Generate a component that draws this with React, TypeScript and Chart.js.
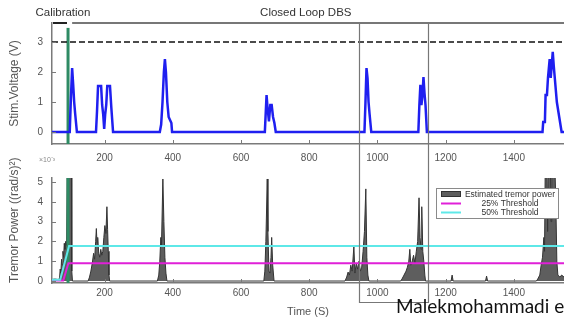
import { useEffect, useRef } from 'react';
import { Chart, registerables } from 'chart.js';

Chart.register(...registerables);

// ---- data -------------------------------------------------------------
const X_MIN = 46;
const X_MAX = 1547;
const xTicks = [200, 400, 600, 800, 1000, 1200, 1400];
const voltageTicks = [0, 1, 2, 3];
const powerTicks = [0, 1, 2, 3, 4, 5];

// stimulation voltage (V) over time (s)
const voltageTime = [
  46, 98, 101, 105, 108, 111, 114, 119,
  175, 178, 181, 190, 193, 196, 199, 202, 205, 208, 216, 220, 225,
  362, 366, 370, 374, 377, 380, 384, 388, 392, 396, 398,
  670, 675, 678, 682, 686, 690, 694, 698, 702,
  962, 965, 968, 971, 974, 977, 982,
  1120, 1123, 1126, 1129, 1132, 1135, 1138, 1141, 1145,
  1484, 1486, 1491, 1493, 1497, 1500, 1505, 1508, 1511, 1514, 1517, 1520, 1526, 1533, 1540, 1547,
];
const voltageValue = [
  0, 0, 1.0, 2.13, 1.6, 1.0, 0.6, 0,
  0, 0.7, 1.53, 1.53, 0.9, 0.6, 0.1, 0.6, 0.9, 1.53, 1.53, 0.8, 0,
  0, 0.25, 1.0, 2.0, 2.43, 2.0, 1.0, 0.5, 0.4, 0.3, 0,
  0, 1.23, 0.8, 0.35, 0.9, 0.9, 0.5, 0.3, 0,
  0, 1.0, 2.13, 1.8, 1.0, 0.6, 0,
  0, 0.9, 1.57, 0.9, 1.2, 1.83, 1.3, 0.9, 0,
  0, 0.33, 0.33, 1.23, 1.23, 1.8, 2.43, 1.8, 2.2, 2.67, 2.2, 1.8, 1.0, 0.5, 0, 0,
];
const maxVoltage = 3;
const calibrationEnd = 93;

// estimated tremor power (x10^-3 (rad/s)^2)
const tremorTime = [
  46, 55, 62, 68, 70, 72, 74, 76, 78, 80, 82, 84, 86, 89, 91, 103, 104, 106,
  152, 156, 160, 164, 168, 171, 174, 176, 178, 180, 183, 186, 189, 192, 195, 198, 201, 204, 207, 209, 211, 213, 215,
  355, 359, 362, 365, 367, 371, 374, 377, 380, 383,
  667, 670, 673, 677, 679, 682, 685, 688, 690, 693, 697,
  905, 910, 914, 918, 922, 926, 931, 934, 938, 942, 946, 950, 954, 958, 962, 966, 969, 972, 975,
  1068, 1072, 1078, 1084, 1088, 1092, 1095, 1098, 1102, 1106, 1110, 1114, 1118, 1122, 1125, 1128, 1130, 1133, 1136, 1139, 1141,
  1216, 1219, 1222, 1317, 1320, 1323,
  1466, 1470, 1476, 1480, 1484, 1488, 1490, 1492, 1497, 1499, 1501, 1507, 1509, 1511, 1520, 1523, 1526, 1529, 1535, 1540, 1547,
];
const tremorPower = [
  0.08, 0.1, 0.08, 0.1, 0.6, 0.4, 1.1, 0.8, 1.5, 1.2, 1.9, 1.6, 2.0, 1.8, 7, 7, 0.5, 0,
  0, 0.2, 0.5, 0.9, 1.4, 1.1, 2.0, 2.65, 1.9, 2.2, 1.4, 1.2, 1.6, 1.3, 1.5, 2.2, 2.8, 2.4, 3.75, 2.6, 1.5, 0.3, 0,
  0, 0.3, 1.0, 2.2, 1.8, 5.15, 3.0, 1.2, 0.4, 0,
  0, 0.5, 2.0, 5.15, 2.5, 0.5, 0.4, 1.2, 2.2, 0.8, 0,
  0, 0.2, 0.45, 0.3, 0.8, 0.5, 1.75, 0.4, 0.9, 0.6, 1.0, 0.5, 0.7, 1.5, 2.5, 4.65, 1.2, 0.3, 0,
  0, 0.1, 0.3, 0.5, 0.7, 1.0, 1.6, 0.8, 1.0, 1.3, 0.9, 1.5, 2.0, 4.2, 2.2, 1.6, 3.75, 1.5, 1.0, 0.3, 0,
  0, 0.3, 0, 0, 0.25, 0,
  0, 0.1, 0.3, 0.8, 1.2, 2.2, 1.5, 6, 6, 2.5, 6, 6, 3, 6, 6, 4, 1.0, 0.3, 0.2, 0.3, 0.2,
];

const threshold25Time = [46, 79, 94, 1547];
const threshold25Value = [0.03, 0.03, 0.9, 0.9];
const threshold50Time = [46, 70, 96, 1547];
const threshold50Value = [0.06, 0.06, 1.77, 1.77];

const reviewWindow = [946, 1148];
const phaseNames = ['Calibration', 'Closed Loop DBS'];
const phaseStart = [49, 105];
const phaseEnd = [90, 1547];
const phaseLabelX = [78, 790];
const phaseColors = ['#222222', '#777777'];

// ---- styling ------------------------------------------------------------
const W = 564;
const H = 320;
const TOP_PANEL = { top: 23, bottom: 144 };
const BOTTOM_PANEL = { top: 178, bottom: 283 };
const AXIS_W = 52;
const FONT = "'Liberation Sans', Arial, sans-serif";
const AXIS_COLOR = '#7a7a7a';
const TEXT_COLOR = '#555555';
const BLUE = '#1f1ff0';
const TEAL = '#2e8b64';
const MAGENTA = '#e020d8';
const CYAN = '#5ee8e8';
const TREMOR_FILL = 'rgba(72,72,72,0.88)';
const TREMOR_EDGE = '#333333';

const pts = (xs: number[], ys: number[]) => xs.map((x, i) => ({ x, y: ys[i] }));
const plainNumber = (v: any) => String(v);

const xScale = (labelPad: number, height: number, title?: any) => ({
  type: 'linear' as const,
  min: X_MIN,
  max: X_MAX,
  afterBuildTicks: (s: any) => {
    s.ticks = xTicks.map((v) => ({ value: v }));
  },
  afterFit: (s: any) => {
    s.height = height;
  },
  grid: { display: false, drawTicks: false },
  border: { display: true, color: AXIS_COLOR, width: 1.5 },
  ticks: { padding: labelPad, color: TEXT_COLOR, font: { size: 10, family: FONT }, callback: plainNumber },
  title: title ?? { display: false },
});

const yScale = (min: number, max: number, ticks: number[], title: any) => ({
  type: 'linear' as const,
  min,
  max,
  afterBuildTicks: (s: any) => {
    s.ticks = ticks.map((v) => ({ value: v }));
  },
  afterFit: (s: any) => {
    s.width = AXIS_W;
  },
  grid: { display: false, drawTicks: false },
  border: { display: true, color: AXIS_COLOR, width: 1.5 },
  ticks: { padding: 9, color: TEXT_COLOR, font: { size: 10, family: FONT }, callback: plainNumber },
  title,
});

function strokeLine(ctx: CanvasRenderingContext2D, x1: number, y1: number, x2: number, y2: number) {
  ctx.beginPath();
  ctx.moveTo(x1, y1);
  ctx.lineTo(x2, y2);
  ctx.stroke();
}

function drawInwardTicks(chart: any, yTicks: number[]) {
  const { ctx, chartArea, scales } = chart;
  ctx.save();
  ctx.strokeStyle = AXIS_COLOR;
  ctx.lineWidth = 1;
  xTicks.forEach((v) => {
    const px = Math.round(scales.x.getPixelForValue(v)) + 0.5;
    strokeLine(ctx, px, chartArea.bottom, px, chartArea.bottom - 4);
  });
  yTicks.forEach((v) => {
    const py = Math.round(scales.y.getPixelForValue(v)) + 0.5;
    strokeLine(ctx, chartArea.left, py, chartArea.left + 4, py);
  });
  ctx.restore();
}

const topDecor = {
  id: 'topDecor',
  afterDraw(chart: any) {
    const { ctx, chartArea, scales } = chart;
    drawInwardTicks(chart, voltageTicks);
    ctx.save();
    phaseNames.forEach((name, i) => {
      ctx.strokeStyle = phaseColors[i];
      ctx.lineWidth = 2;
      strokeLine(
        ctx,
        scales.x.getPixelForValue(phaseStart[i]),
        chartArea.top,
        scales.x.getPixelForValue(phaseEnd[i]),
        chartArea.top,
      );
      ctx.fillStyle = '#333333';
      ctx.font = `11.5px ${FONT}`;
      ctx.textAlign = 'center';
      ctx.textBaseline = 'middle';
      ctx.fillText(name, scales.x.getPixelForValue(phaseLabelX[i]), chartArea.top - 10);
    });
    ctx.restore();
  },
};

const bottomDecor = {
  id: 'bottomDecor',
  afterDraw(chart: any) {
    const { ctx, chartArea, scales } = chart;
    drawInwardTicks(chart, powerTicks);
    ctx.save();

    // exponent of the power axis
    ctx.fillStyle = '#888888';
    ctx.font = `7px ${FONT}`;
    ctx.textAlign = 'center';
    ctx.textBaseline = 'middle';
    ctx.fillText('\u00d710\u207b\u00b3', chartArea.left - 5, chartArea.top - 18);

    // highlighted time window spanning both panels
    const bx1 = Math.round(scales.x.getPixelForValue(reviewWindow[0])) + 0.5;
    const bx2 = Math.round(scales.x.getPixelForValue(reviewWindow[1])) + 0.5;
    const byTop = TOP_PANEL.top;
    const byBottom = chartArea.bottom + 19.5;
    ctx.strokeStyle = '#777777';
    ctx.lineWidth = 1.2;
    ctx.beginPath();
    ctx.moveTo(bx1, byTop);
    ctx.lineTo(bx1, byBottom);
    ctx.lineTo(bx2, byBottom);
    ctx.lineTo(bx2, byTop);
    ctx.stroke();

    // legend
    const lw = 122;
    const lh = 30;
    const lx = chartArea.right - 6 - lw;
    const ly = chartArea.top + 10;
    ctx.fillStyle = '#ffffff';
    ctx.fillRect(lx, ly, lw, lh);
    ctx.strokeStyle = '#8a8a8a';
    ctx.lineWidth = 1;
    ctx.strokeRect(lx + 0.5, ly + 0.5, lw, lh);
    const rows = chart.data.datasets.filter((d: any) => d.showInLegend);
    const rowY = [ly + 6, ly + 15.5, ly + 24.5];
    ctx.font = `8.5px ${FONT}`;
    ctx.textAlign = 'center';
    ctx.textBaseline = 'middle';
    rows.forEach((d: any, i: number) => {
      const y = rowY[i];
      if (d.fill) {
        ctx.fillStyle = d.backgroundColor;
        ctx.fillRect(lx + 5, y - 3, 20, 6);
        ctx.strokeStyle = d.borderColor;
        ctx.lineWidth = 1;
        ctx.strokeRect(lx + 5.5, y - 2.5, 19, 5);
      } else {
        ctx.strokeStyle = d.borderColor;
        ctx.lineWidth = 2;
        strokeLine(ctx, lx + 5, y, lx + 25, y);
      }
      ctx.fillStyle = '#333333';
      ctx.fillText(d.label, lx + 74, y + 0.5);
    });
    ctx.restore();
  },
};

export default function App() {
  const topRef = useRef<HTMLCanvasElement>(null);
  const bottomRef = useRef<HTMLCanvasElement>(null);

  useEffect(() => {
    if (!topRef.current || !bottomRef.current) return;

    const voltageChart = new Chart(topRef.current, {
      type: 'line',
      data: {
        datasets: [
          {
            label: 'Stim. Voltage',
            data: pts(voltageTime, voltageValue),
            borderColor: BLUE,
            borderWidth: 2.5,
            pointRadius: 0,
            order: 0,
          },
          {
            label: 'Maximum voltage',
            data: pts([X_MIN, X_MAX], [maxVoltage, maxVoltage]),
            borderColor: '#111111',
            borderWidth: 1.6,
            borderDash: [6, 3],
            pointRadius: 0,
            order: 1,
          },
          {
            label: 'End of calibration',
            data: pts([calibrationEnd, calibrationEnd], [-1, 3.47]),
            borderColor: TEAL,
            borderWidth: 3,
            pointRadius: 0,
            order: 2,
          },
        ],
      } as any,
      options: {
        responsive: false,
        animation: false,
        events: [],
        layout: { padding: { top: TOP_PANEL.top, left: 0, right: 0, bottom: 0 } },
        plugins: { legend: { display: false }, tooltip: { enabled: false } },
        scales: {
          x: xScale(8, H - TOP_PANEL.bottom),
          y: yScale(-0.4, 3.633, voltageTicks, {
            display: true,
            text: 'Stim.Voltage (V)',
            color: TEXT_COLOR,
            font: { size: 12, family: FONT },
            padding: { top: 7, bottom: 0 },
          }),
        },
      } as any,
      plugins: [topDecor],
    });

    const powerChart = new Chart(bottomRef.current, {
      type: 'line',
      data: {
        datasets: [
          {
            label: 'Estimated tremor power',
            data: pts(tremorTime, tremorPower),
            borderColor: TREMOR_EDGE,
            backgroundColor: TREMOR_FILL,
            borderWidth: 1,
            fill: 'origin',
            pointRadius: 0,
            order: 3,
            showInLegend: true,
          },
          {
            label: 'End of calibration',
            data: pts([calibrationEnd, calibrationEnd], [-1, 7]),
            borderColor: TEAL,
            borderWidth: 3,
            pointRadius: 0,
            order: 2,
          },
          {
            label: '25% Threshold',
            data: pts(threshold25Time, threshold25Value),
            borderColor: MAGENTA,
            borderWidth: 2,
            pointRadius: 0,
            order: 1,
            showInLegend: true,
          },
          {
            label: '50% Threshold',
            data: pts(threshold50Time, threshold50Value),
            borderColor: CYAN,
            borderWidth: 2,
            pointRadius: 0,
            order: 0,
            showInLegend: true,
          },
        ],
      } as any,
      options: {
        responsive: false,
        animation: false,
        events: [],
        layout: { padding: { top: BOTTOM_PANEL.top, left: 0, right: 0, bottom: 0 } },
        plugins: { legend: { display: false }, tooltip: { enabled: false } },
        scales: {
          x: xScale(4, H - BOTTOM_PANEL.bottom, {
            display: true,
            text: 'Time (S)',
            color: TEXT_COLOR,
            font: { size: 11, family: FONT },
            padding: { top: 0, bottom: 1 },
          }),
          y: yScale(-0.1, 5.2, powerTicks, {
            display: true,
            text: 'Tremor Power ((rad/s)\u00b2)',
            color: TEXT_COLOR,
            align: 'start',
            font: { size: 12, family: FONT },
            padding: { top: 7, bottom: 0 },
          }),
        },
      } as any,
      plugins: [bottomDecor],
    });

    return () => {
      voltageChart.destroy();
      powerChart.destroy();
    };
  }, []);

  return (
    <div
      style={{
        position: 'fixed',
        left: 0,
        top: 0,
        width: W,
        height: H,
        overflow: 'hidden',
        background: '#ffffff',
      }}
    >
      <canvas ref={topRef} width={W} height={H} style={{ position: 'absolute', left: 0, top: 0, width: W, height: H }} />
      <canvas ref={bottomRef} width={W} height={H} style={{ position: 'absolute', left: 0, top: 0, width: W, height: H }} />
      <div
        style={{
          position: 'absolute',
          left: 396,
          top: 296,
          fontFamily: "Lato, 'Open Sans', sans-serif",
          fontSize: 19,
          lineHeight: '19px',
          color: '#111111',
          whiteSpace: 'nowrap',
        }}
      >
        Malekmohammadi et al.
      </div>
    </div>
  );
}
